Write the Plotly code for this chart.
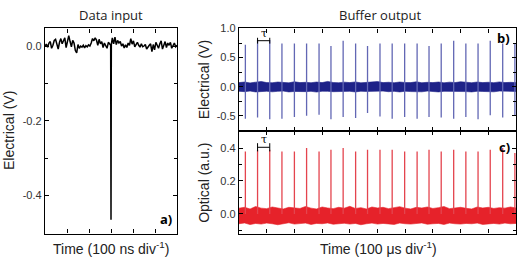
import numpy as np
import plotly.graph_objects as go

# ---------------- data ----------------
# (a) data input trace, mV, sampled every 0.06 div over 0..6 div, spike at 3.0 div
input_mv_before = [0, 5, -3, 8, 12, -6, 2, 15, 18, 4,
                   -8, 10, 20, 6, 14, 22, -4, 10, 28, 12,
                   -2, 15, 8, -12, -18, 4, -6, 0, -3, 2,
                   -5, 1, -2, 3, 0, 8, 20, 14, 22, 16,
                   2, 18, 6, 12, -4, 8, 2, -6, 10, 4]
spike_t = [2.985, 3.0, 3.015]
spike_mv = [2, -465, 4]
input_mv_after = [22, 6, 24, 4, 15, 8, 12, 0, 6, -5,
                  3, -4, 8, 2, 20, 5, 14, -2, 4, 10,
                  2, -3, 6, -2, 0, 4, -8, -2, 2, 6,
                  -15, 4, -10, 10, 2, -6, 6, 14, -8, 6,
                  12, -4, 8, 2, 10, -6, 4, 8, -2, 2]
input_t = (list(np.arange(len(input_mv_before)) * 0.06) + spike_t
           + list(3.06 + np.arange(len(input_mv_after)) * 0.06))
input_v = [v / 1000 for v in input_mv_before + spike_mv + input_mv_after]

# (b),(c) pulse train (time in divisions of 100 us)
pulse_t = [0.23, 0.67, 1.11, 1.55, 2.00, 2.44, 2.89, 3.32, 3.76, 4.21, 4.64, 5.09,
           5.53, 5.98, 6.43, 6.86, 7.30, 7.75, 8.19, 8.63, 9.07, 9.52, 9.96]
elec_pos = [0.72, 0.80, 0.80, 0.74, 0.74, 0.74, 0.74, 0.70, 0.79, 0.74, 0.70, 0.74,
            0.74, 0.74, 0.74, 0.70, 0.74, 0.79, 0.74, 0.74, 0.79, 0.74, 0.74]
elec_neg = [-0.55, -0.53, -0.56, -0.55, -0.52, -0.50, -0.48, -0.56, -0.52, -0.54, -0.45, -0.51,
            -0.55, -0.52, -0.55, -0.52, -0.53, -0.55, -0.52, -0.56, -0.49, -0.53, -0.50]
opt_peak = [0.38, 0.39, 0.39, 0.38, 0.38, 0.40, 0.38, 0.39, 0.40, 0.38, 0.39, 0.39,
            0.39, 0.38, 0.38, 0.39, 0.38, 0.39, 0.38, 0.38, 0.39, 0.40, 0.37]

# noise band envelopes (sampled every 0.2 div over 0..10)
b_upper = [0.07, 0.08, 0.065, 0.075, 0.09, 0.07, 0.068, 0.08, 0.072, 0.066, 0.085, 0.07, 0.075,
           0.068, 0.08, 0.07, 0.09, 0.072, 0.068, 0.078, 0.07, 0.082, 0.066, 0.074, 0.07, 0.088,
           0.07, 0.076, 0.068, 0.08, 0.072, 0.07, 0.084, 0.068, 0.075, 0.07, 0.08, 0.066, 0.078,
           0.07, 0.085, 0.072, 0.068, 0.08, 0.07, 0.076, 0.069, 0.082, 0.07, 0.075, 0.07]
b_lower = [-0.08, -0.085, -0.075, -0.09, -0.08, -0.078, -0.088, -0.08, -0.076, -0.09, -0.082,
           -0.078, -0.085, -0.08, -0.092, -0.078, -0.08, -0.086, -0.076, -0.084, -0.08, -0.09,
           -0.078, -0.082, -0.088, -0.08, -0.076, -0.086, -0.08, -0.09, -0.078, -0.084, -0.08,
           -0.088, -0.076, -0.082, -0.09, -0.08, -0.078, -0.086, -0.08, -0.084, -0.09, -0.078,
           -0.082, -0.08, -0.088, -0.076, -0.084, -0.08, -0.082]
c_upper = [0.035, 0.04, 0.03, 0.045, 0.035, 0.032, 0.042, 0.036, 0.03, 0.04, 0.038, 0.033,
           0.045, 0.035, 0.03, 0.042, 0.036, 0.032, 0.04, 0.035, 0.046, 0.033, 0.038, 0.03,
           0.042, 0.036, 0.04, 0.032, 0.038, 0.044, 0.035, 0.03, 0.04, 0.036, 0.042, 0.033,
           0.038, 0.045, 0.032, 0.036, 0.04, 0.034, 0.03, 0.042, 0.036, 0.04, 0.033, 0.038,
           0.035, 0.042, 0.036]
c_lower = [-0.06, -0.055, -0.065, -0.058, -0.062, -0.056, -0.06, -0.066, -0.058, -0.054, -0.062,
           -0.06, -0.056, -0.064, -0.058, -0.06, -0.055, -0.063, -0.06, -0.057, -0.062, -0.058,
           -0.066, -0.06, -0.056, -0.062, -0.058, -0.06, -0.064, -0.056, -0.06, -0.062, -0.058,
           -0.055, -0.063, -0.06, -0.058, -0.064, -0.056, -0.06, -0.062, -0.058, -0.06, -0.056,
           -0.064, -0.06, -0.058, -0.062, -0.056, -0.06, -0.058]

NAVY = "#1e2288"
PULSE_B = "#6267b4"
RED = "#e6222a"
PULSE_C = "#e4444e"

fig = go.Figure()

# (a)
fig.add_trace(go.Scatter(x=input_t, y=input_v, mode="lines",
                         line=dict(color="black", width=1.5), xaxis="x", yaxis="y"))

# (b) noise band + pulses
bt = np.linspace(0, 10, len(b_upper))
fig.add_trace(go.Scatter(x=list(bt) + list(bt[::-1]), y=b_upper + b_lower[::-1],
                         fill="toself", fillcolor=NAVY, mode="lines",
                         line=dict(color=NAVY, width=0.6), xaxis="x2", yaxis="y2"))
px, py = [], []
for t, lo, hi in zip(pulse_t, elec_neg, elec_pos):
    px += [t, t, None]
    py += [lo, hi, None]
fig.add_trace(go.Scatter(x=px, y=py, mode="lines", line=dict(color=PULSE_B, width=1.3),
                         xaxis="x2", yaxis="y2"))

# (c) noise band + pulses
ct = np.linspace(0, 10, len(c_upper))
fig.add_trace(go.Scatter(x=list(ct) + list(ct[::-1]), y=c_upper + c_lower[::-1],
                         fill="toself", fillcolor=RED, mode="lines",
                         line=dict(color=RED, width=0.6), xaxis="x3", yaxis="y3"))
qx, qy = [], []
for t, hi in zip(pulse_t, opt_peak):
    qx += [t, t, None]
    qy += [0, hi, None]
fig.add_trace(go.Scatter(x=qx, y=qy, mode="lines", line=dict(color=PULSE_C, width=1.3),
                         xaxis="x3", yaxis="y3"))

W, H = 520, 260
def fx(p): return p / W
def fy(p): return 1 - p / H

tickfont = dict(family="Liberation Sans, Arial", size=11, color="#333")
common = dict(showgrid=False, zeroline=False, showline=True, linecolor="black", linewidth=1.3,
              mirror="ticks", ticks="inside", ticklen=4, tickwidth=1, tickcolor="black",
              tickfont=tickfont)

fig.update_layout(
    width=W, height=H, margin=dict(l=0, r=0, t=0, b=0),
    paper_bgcolor="white", plot_bgcolor="white", showlegend=False,
    xaxis=dict(domain=[fx(45), fx(177)], range=[0, 6], dtick=1, showticklabels=False,
               anchor="y", **common),
    yaxis=dict(domain=[fy(233), fy(23)], range=[-0.502, 0.047], tickvals=[0.0, -0.2, -0.4],
               ticktext=["0.0", "-0.2", "-0.4"], anchor="x",
               minor=dict(tickvals=[-0.1, -0.3], ticks="inside", ticklen=3, tickcolor="black"),
               **common),
    xaxis2=dict(domain=[fx(239), fx(516)], range=[0, 10], dtick=1, showticklabels=False,
                anchor="y2", **common),
    yaxis2=dict(domain=[fy(128.3), fy(23)], range=[-0.767, 1.0], tickvals=[1.0, 0.5, 0.0, -0.5],
                ticktext=["1.0", "0.5", "0.0", "-0.5"], anchor="x2",
                minor=dict(tickvals=[0.75, 0.25, -0.25], ticks="inside", ticklen=3, tickcolor="black"),
                **common),
    xaxis3=dict(domain=[fx(239), fx(516)], range=[0, 10], dtick=1, showticklabels=False,
                anchor="y3", **common),
    yaxis3=dict(domain=[fy(233), fy(128.3)], range=[-0.12, 0.502], tickvals=[0.4, 0.2, 0.0],
                ticktext=["0.4", "0.2", "0.0"], anchor="x3",
                minor=dict(tickvals=[0.3, 0.1, -0.1], ticks="inside", ticklen=3, tickcolor="black"),
                **common),
)

titlefont = dict(family="Open Sans", size=13, color="#222")
labfont = dict(family="Liberation Sans, Arial", size=14, color="#222")
ann = [
    dict(text="Data input", x=fx(111), y=fy(9), font=titlefont),
    dict(text="Buffer output", x=fx(380), y=fy(9), font=titlefont),
    dict(text="Electrical (V)", x=fx(9), y=fy(128), textangle=-90, font=labfont),
    dict(text="Electrical (V)", x=fx(204), y=fy(76), textangle=-90, font=labfont),
    dict(text="Optical (a.u.)", x=fx(204), y=fy(181), textangle=-90, font=labfont),
    dict(text="Time (100 ns div<sup>-1</sup>)", x=fx(111), y=fy(248), font=labfont),
    dict(text="Time (100 μs div<sup>-1</sup>)", x=fx(378), y=fy(248), font=labfont),
    dict(text="<b>a)</b>", x=fx(166), y=fy(218), font=dict(family="Open Sans", size=13, color="black")),
    dict(text="<b>b)</b>", x=fx(503), y=fy(33), font=dict(family="Open Sans", size=13, color="black")),
    dict(text="<b>c)</b>", x=fx(504), y=fy(144), font=dict(family="Open Sans", size=13, color="black")),
]
for a in ann:
    a.update(xref="paper", yref="paper", showarrow=False, xanchor="center", yanchor="middle")
    fig.add_annotation(**a)

# tau markers
for xa, ya, yv, cap, ty in [("x2", "y2", 0.79, 0.05, 0.92), ("x3", "y3", 0.405, 0.025, 0.455)]:
    t0, t1 = pulse_t[1], pulse_t[2]
    fig.add_shape(type="line", xref=xa, yref=ya, x0=t0, x1=t1, y0=yv, y1=yv,
                  line=dict(color="black", width=1))
    for t in (t0, t1):
        fig.add_shape(type="line", xref=xa, yref=ya, x0=t, x1=t, y0=yv - cap, y1=yv + cap,
                      line=dict(color="black", width=1))
    fig.add_annotation(text="τ", x=(t0 + t1) / 2, y=ty, xref=xa, yref=ya, showarrow=False,
                       font=dict(family="DejaVu Serif", size=11, color="black"))

fig.write_html("out.html", config={"displayModeBar": False},
               post_script="document.body.style.margin='0';document.body.style.overflow='hidden';")
